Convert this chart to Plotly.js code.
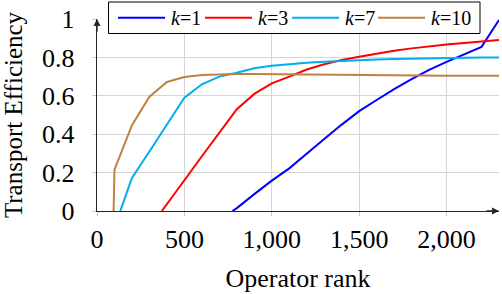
<!DOCTYPE html>
<html>
<head>
<meta charset="utf-8">
<script src="https://cdn.plot.ly/plotly-3.0.1.min.js"></script>
<style>html,body{margin:0;padding:0;background:#fff;}
#chart{position:relative;z-index:1;width:502px;height:294px;}
#warm{position:absolute;left:200px;top:150px;z-index:0;font-size:2px;color:#fff;line-height:2px;}</style>
</head>
<body>
<div id="warm"><span style="font-family:'Times New Roman'">a<i>k</i></span><span style="font-family:'Liberation Serif'">a<i>k</i></span><span style="font-family:'DejaVu Serif'">a</span></div>
<div id="chart"></div>
<script>
// ---- data ----
const seriesNames = ["k=1", "k=3", "k=7", "k=10"];
const legendLabels = ["<i>k</i>=1", "<i>k</i>=3", "<i>k</i>=7", "<i>k</i>=10"];
const k1X = [775, 800, 900, 1000, 1100, 1200, 1300, 1400, 1500, 1600, 1700, 1800, 1900, 2000, 2100, 2200, 2300];
const k1Y = [0, 0.015, 0.088, 0.158, 0.222, 0.30, 0.375, 0.45, 0.52, 0.578, 0.635, 0.687, 0.735, 0.777, 0.817, 0.855, 0.995];
const k3X = [371, 400, 500, 600, 700, 800, 900, 1000, 1100, 1200, 1300, 1400, 1500, 1600, 1700, 1800, 1900, 2000, 2100, 2200, 2300];
const k3Y = [0, 0.035, 0.16, 0.285, 0.41, 0.53, 0.61, 0.665, 0.70, 0.737, 0.764, 0.786, 0.803, 0.82, 0.835, 0.847, 0.858, 0.867, 0.875, 0.883, 0.89];
const k7X = [133, 200, 300, 400, 500, 600, 700, 800, 900, 1000, 1100, 1200, 1300, 1400, 1500, 1600, 1700, 1800, 1900, 2000, 2100, 2200, 2300];
const k7Y = [0, 0.172, 0.31, 0.45, 0.59, 0.66, 0.70, 0.72, 0.743, 0.757, 0.765, 0.772, 0.777, 0.782, 0.786, 0.789, 0.792, 0.794, 0.796, 0.798, 0.799, 0.80, 0.80];
const k10X = [95, 100, 200, 300, 400, 500, 600, 700, 800, 900, 1000, 1100, 1200, 1300, 1400, 1500, 1600, 1700, 1800, 1900, 2000, 2100, 2200, 2300];
const k10Y = [0, 0.215, 0.447, 0.595, 0.672, 0.698, 0.708, 0.712, 0.713, 0.713, 0.712, 0.711, 0.71, 0.709, 0.708, 0.707, 0.707, 0.706, 0.706, 0.705, 0.705, 0.705, 0.705, 0.705];
const xTicks = [0, 500, 1000, 1500, 2000];
const yTicks = [0, 0.2, 0.4, 0.6, 0.8, 1];

// ---- style ----
const colors = ["#0000ff", "#ff0000", "#00aeef", "#bf8040"];
const FONT = "Times New Roman";
const W = 502, H = 294;
const M = {l: 97, r: 3, t: 19, b: 83};
const PW = W - M.l - M.r, PH = H - M.t - M.b;
const px2x = p => (p - M.l) / PW;
const py2y = p => (H - M.b - p) / PH;

const xs = [k1X, k3X, k7X, k10X];
const ys = [k1Y, k3Y, k7Y, k10Y];
const traces = seriesNames.map((n, i) => ({
  type: "scatter", mode: "lines", name: n, x: xs[i], y: ys[i],
  line: {color: colors[i], width: 2}, showlegend: false, hoverinfo: "skip"
}));

// custom legend
const shapes = [{
  type: "rect", xref: "paper", yref: "paper",
  x0: px2x(108.5), x1: px2x(480), y0: py2y(33.5), y1: py2y(2),
  line: {color: "#000", width: 1}, fillcolor: "#fff", layer: "above"
}];
const annotations = [];
const lineStarts = [118, 205, 292, 378];
const legY = 17.7;
lineStarts.forEach((s, i) => {
  shapes.push({type: "line", xref: "paper", yref: "paper",
    x0: px2x(s), x1: px2x(s + 47), y0: py2y(legY), y1: py2y(legY),
    line: {color: colors[i], width: 2}, layer: "above"});
  annotations.push({xref: "paper", yref: "paper", x: px2x(s + 51), y: py2y(legY),
    xanchor: "left", yanchor: "middle", showarrow: false, text: legendLabels[i],
    font: {family: FONT, size: 20, color: "#000"}});
});
// axis arrows
annotations.push({x: 2300, y: 0, xref: "x", yref: "y", ax: -14, ay: 0, text: "",
  showarrow: true, arrowhead: 2, arrowsize: 1, arrowwidth: 1.4, arrowcolor: "#262626", standoff: -1});
annotations.push({x: 0, y: 1, xref: "x", yref: "y", ax: 0, ay: 14, text: "",
  showarrow: true, arrowhead: 2, arrowsize: 1, arrowwidth: 1.4, arrowcolor: "#262626", standoff: -1});

const layout = {
  width: W, height: H,
  margin: M,
  paper_bgcolor: "#fff", plot_bgcolor: "#fff",
  font: {family: FONT, color: "#000"},
  showlegend: false,
  xaxis: {
    range: [0, 2300], tickvals: xTicks, tickformat: ",d",
    showgrid: true, gridcolor: "#d6d6d6", gridwidth: 1, zeroline: false,
    showline: true, linecolor: "#262626", linewidth: 1.4,
    ticks: "outside", ticklen: 4, tickcolor: "#c8c8c8", tickwidth: 1,
    tickfont: {family: FONT, size: 26, color: "#000"},
    title: {text: "Operator rank", font: {family: FONT, size: 26, color: "#000"}, standoff: 16},
    automargin: false, fixedrange: true
  },
  yaxis: {
    range: [0, 1], tickvals: yTicks,
    showgrid: true, gridcolor: "#d6d6d6", gridwidth: 1, zeroline: false,
    showline: true, linecolor: "#262626", linewidth: 1.4,
    ticks: "outside", ticklen: 4, tickcolor: "#c8c8c8", tickwidth: 1,
    ticklabelstandoff: 12,
    tickfont: {family: FONT, size: 26, color: "#000"},
    title: {text: "Transport Efficiency", font: {family: FONT, size: 25, color: "#000"}, standoff: 14},
    automargin: false, fixedrange: true
  },
  shapes: shapes,
  annotations: annotations
};
const cfg = {displayModeBar: false, staticPlot: true};
document.getElementById("warm").getBoundingClientRect();
Plotly.newPlot("chart", traces, layout, cfg);
if (document.fonts && document.fonts.ready) {
  document.fonts.ready.then(() => Plotly.newPlot("chart", traces, layout, cfg));
}
</script>
</body>
</html>
